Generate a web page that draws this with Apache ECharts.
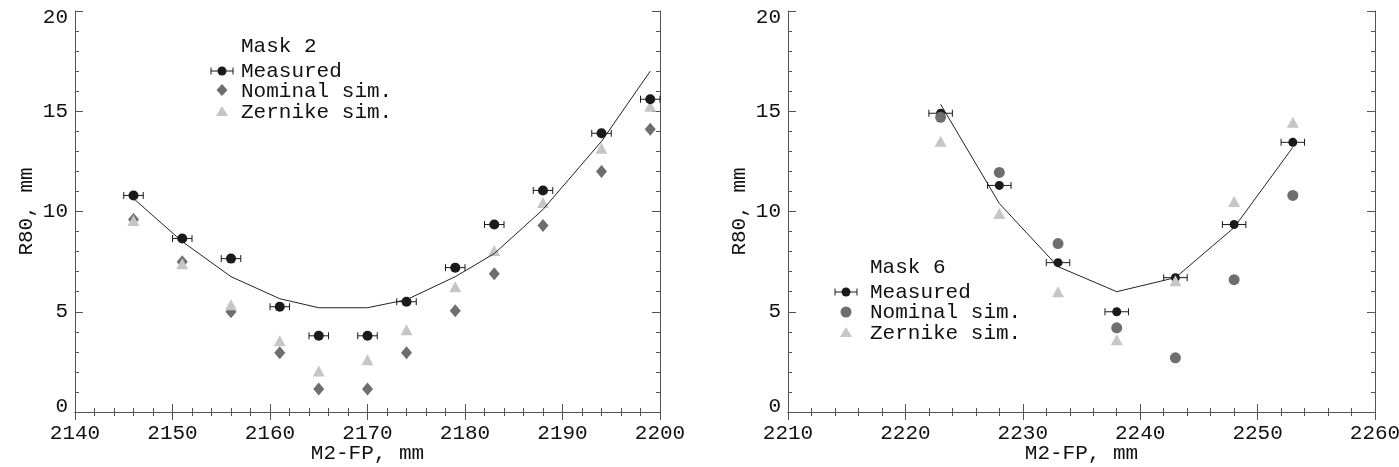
<!DOCTYPE html>
<html>
<head>
<meta charset="utf-8">
<script src="https://cdn.jsdelivr.net/npm/echarts@6/dist/echarts.min.js"></script>
<style>
  html, body { margin: 0; padding: 0; background: #fff; }
  #chart { width: 1399px; height: 467px; }
</style>
</head>
<body>
<div id="chart"></div>
<script>
// Mask 2 (left panel)
const xLeft = [2146, 2151, 2156, 2161, 2165, 2170, 2174, 2179, 2183, 2188, 2194, 2199];
const measLeft = [10.8, 8.65, 7.65, 5.25, 3.8, 3.8, 5.5, 7.2, 9.35, 11.05, 13.9, 15.6];
const nomLeft = [9.6, 7.5, 5.0, 2.95, 1.15, 1.15, 2.95, 5.05, 6.9, 9.3, 12.0, 14.1];
const zernLeft = [9.55, 7.4, 5.35, 3.55, 2.05, 2.6, 4.1, 6.25, 8.05, 10.45, 13.15, 15.25];
const fitLeft = [10.65, 8.5, 6.75, 5.65, 5.2, 5.2, 5.6, 6.75, 7.9, 10.1, 13.5, 17.0];

// Mask 6 (right panel)
const xRight = [2223, 2228, 2233, 2238, 2243, 2248, 2253];
const measRight = [14.9, 11.3, 7.45, 5.0, 6.7, 9.35, 13.45];
const nomRight = [14.7, 11.95, 8.4, 4.2, 2.7, 6.6, 10.8];
const zernRight = [13.5, 9.9, 6.0, 3.6, 6.55, 10.5, 14.45];
const fitRight = [15.35, 10.4, 7.25, 6.0, 6.7, 9.2, 13.2];

const xErr = 1; // +- mm on M2-FP
const yTicks = [0, 5, 10, 15, 20];

const FONT = 'Liberation Mono';
const FS = 21;
const TXT = '#111';
const AX = '#555';
const C_MEAS = '#1a1a1a', C_NOM = '#6e6e6e', C_ZERN = '#c6c6c6';

const zip = (xs, ys) => xs.map((x, i) => [x, ys[i]]);

var chart = echarts.init(document.getElementById('chart'));

function xAxes(grid, min, max) {
    let base = {
        gridIndex: grid, type: 'value', min: min, max: max, interval: 10,
        axisLine: { show: true, lineStyle: { color: AX, width: 1 } },
        axisTick: { show: true, inside: true, length: 8, lineStyle: { color: AX } },
        minorTick: { show: true, splitNumber: 5, length: 4, lineStyle: { color: AX } },
        splitLine: { show: false }
    };
    return [
        Object.assign({}, base, {
            position: 'bottom',
            name: 'M2-FP, mm', nameLocation: 'middle', nameGap: 31, nameMoveOverlap: false,
            nameTextStyle: { fontFamily: FONT, fontSize: FS, color: TXT },
            axisLabel: { fontFamily: FONT, fontSize: FS, color: TXT, margin: 11, formatter: v => String(v) }
        }),
        Object.assign({}, base, { position: 'top', axisLabel: { show: false } })
    ];
}
function yAxes(grid) {
    let base = {
        gridIndex: grid, type: 'value', min: 0, max: 20, interval: 5,
        axisLine: { show: true, lineStyle: { color: AX, width: 1 } },
        axisTick: { show: true, inside: true, length: 8, lineStyle: { color: AX } },
        minorTick: { show: true, splitNumber: 5, length: 4, lineStyle: { color: AX } },
        splitLine: { show: false }
    };
    let lab = { fontFamily: FONT, fontSize: FS, color: TXT };
    return [
        Object.assign({}, base, {
            position: 'left',
            name: 'R80, mm', nameLocation: 'middle', nameGap: 38, nameRotate: 90, nameMoveOverlap: false,
            nameTextStyle: { fontFamily: FONT, fontSize: FS, color: TXT },
            axisLabel: {
                fontFamily: FONT, fontSize: FS, color: TXT, margin: 7,
                // end labels sit a little inside the frame, like the original
                formatter: v => v === 0 ? '{lo|0}' : v === 20 ? '{hi|20}' : String(v),
                rich: {
                    lo: Object.assign({ padding: [0, 0, 12, 0] }, lab),
                    hi: Object.assign({ padding: [12, 0, 0, 0] }, lab)
                }
            }
        }),
        Object.assign({}, base, { position: 'right', axisLabel: { show: false } })
    ];
}

// horizontal error bars with end caps
function errBars(xi, yi, xs, ys) {
    return {
        type: 'custom', xAxisIndex: xi, yAxisIndex: yi, z: 4,
        data: zip(xs, ys),
        renderItem: function (params, api) {
            let x = api.value(0), y = api.value(1);
            let p1 = api.coord([x - xErr, y]);
            let p2 = api.coord([x + xErr, y]);
            let st = { stroke: C_MEAS, lineWidth: 1 };
            return {
                type: 'group',
                children: [
                    { type: 'line', shape: { x1: p1[0], y1: p1[1], x2: p2[0], y2: p2[1] }, style: st },
                    { type: 'line', shape: { x1: p1[0], y1: p1[1] - 3.5, x2: p1[0], y2: p1[1] + 3.5 }, style: st },
                    { type: 'line', shape: { x1: p2[0], y1: p2[1] - 3.5, x2: p2[0], y2: p2[1] + 3.5 }, style: st }
                ]
            };
        }
    };
}
function scatter(xi, yi, data, symbol, size, color, z) {
    return {
        type: 'scatter', xAxisIndex: xi, yAxisIndex: yi, z: z,
        symbol: symbol, symbolSize: size, data: data,
        itemStyle: { color: color, opacity: 1 },
        emphasis: { disabled: true }
    };
}
function fitLine(xi, yi, data) {
    return {
        type: 'line', xAxisIndex: xi, yAxisIndex: yi, z: 3,
        data: data, showSymbol: false, symbol: 'none',
        lineStyle: { color: '#222', width: 1 }
    };
}

// legend drawn by hand (errorbar icon is not a stock legend icon)
function legend(title, tx, ty, mx, nomShape) {
    let st = { stroke: C_MEAS, lineWidth: 1 };
    let nomIcon = nomShape === 'diamond'
        ? { type: 'polygon', shape: { points: [[mx, ty + 38], [mx + 5.5, ty + 44], [mx, ty + 50], [mx - 5.5, ty + 44]] }, style: { fill: C_NOM } }
        : { type: 'circle', shape: { cx: mx, cy: ty + 45, r: 5.5 }, style: { fill: C_NOM } };
    let tStyle = (t, y) => ({ type: 'text', x: tx, y: y, style: { text: t, font: FS + 'px "' + FONT + '"', fill: TXT, verticalAlign: 'middle' } });
    return [
        tStyle(title, ty),
        { type: 'line', shape: { x1: mx - 11, y1: ty + 25, x2: mx + 11, y2: ty + 25 }, style: st },
        { type: 'line', shape: { x1: mx - 11, y1: ty + 21.5, x2: mx - 11, y2: ty + 28.5 }, style: st },
        { type: 'line', shape: { x1: mx + 11, y1: ty + 21.5, x2: mx + 11, y2: ty + 28.5 }, style: st },
        { type: 'circle', shape: { cx: mx, cy: ty + 25, r: 4.5 }, style: { fill: C_MEAS } },
        tStyle('Measured', ty + 25),
        nomIcon,
        tStyle('Nominal sim.', ty + 45),
        { type: 'polygon', shape: { points: [[mx, ty + 60], [mx + 6, ty + 70], [mx - 6, ty + 70]] }, style: { fill: C_ZERN } },
        tStyle('Zernike sim.', ty + 66)
    ];
}

var option = {
    animation: false,
    backgroundColor: '#fff',
    grid: [
        { left: 75, top: 11, width: 585, height: 401, outerBoundsMode: 'none' },
        { left: 788, top: 11, width: 587, height: 401, outerBoundsMode: 'none' }
    ],
    xAxis: xAxes(0, 2140, 2200).concat(xAxes(1, 2210, 2260)),
    yAxis: yAxes(0).concat(yAxes(1)),
    series: [
        // left
        scatter(0, 0, zip(xLeft, nomLeft), 'diamond', [11, 13], C_NOM, 2),
        scatter(0, 0, zip(xLeft, zernLeft), 'triangle', [12, 11], C_ZERN, 2),
        fitLine(0, 0, zip(xLeft, fitLeft)),
        errBars(0, 0, xLeft, measLeft),
        scatter(0, 0, zip(xLeft, measLeft), 'circle', 10, C_MEAS, 5),
        // right
        fitLine(2, 2, zip(xRight, fitRight)),
        errBars(2, 2, xRight, measRight),
        scatter(2, 2, zip(xRight, measRight), 'circle', 9, C_MEAS, 5),
        scatter(2, 2, zip(xRight, nomRight), 'circle', 11, C_NOM, 6),
        scatter(2, 2, zip(xRight, zernRight), 'triangle', [12, 11], C_ZERN, 6)
    ],
    graphic: legend('Mask 2', 241, 46, 222, 'diamond').concat(legend('Mask 6', 870, 267, 846, 'circle'))
};
chart.setOption(option);
</script>
</body>
</html>
